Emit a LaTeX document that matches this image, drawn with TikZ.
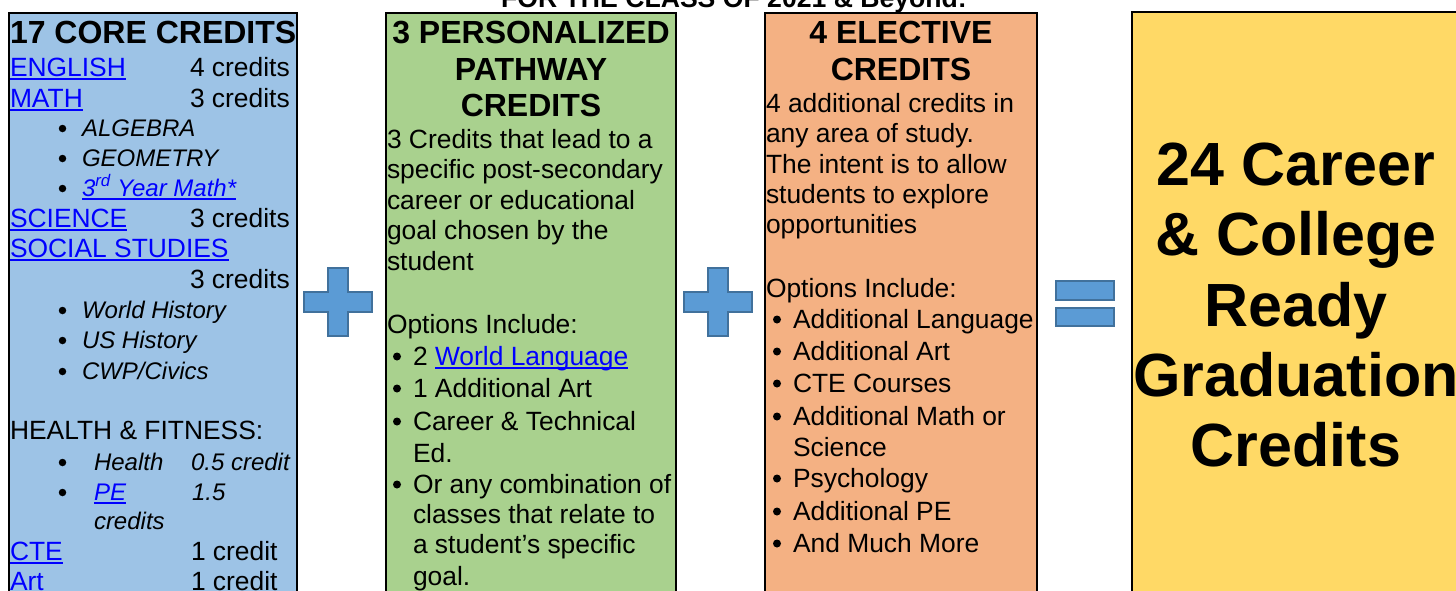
\documentclass[tikz,border=0pt]{standalone}
\usepackage{fontspec}
\setmainfont{Liberation Sans}
\definecolor{cblue}{HTML}{9DC3E6}
\definecolor{cgreen}{HTML}{A9D18E}
\definecolor{corange}{HTML}{F4B183}
\definecolor{cyellow}{HTML}{FFD966}
\definecolor{plusfill}{HTML}{5B9BD5}
\definecolor{plusline}{HTML}{41719C}
\definecolor{linkblue}{HTML}{0000FF}
\newcommand\bodyf{\fontsize{26.4pt}{30.4pt}\selectfont}
\newcommand\smallitf{\fontsize{24pt}{28pt}\selectfont\itshape}
\newcommand\headf{\fontsize{32pt}{36.8pt}\selectfont\bfseries}
\newcommand\bigf{\fontsize{61pt}{70pt}\selectfont\bfseries}
\newcommand\lnk[1]{{\color{linkblue}\setbox0\hbox{#1}\rlap{\rule[-4pt]{\wd0}{1.8pt}}\box0}}
\tikzset{
  boxst/.style={draw=black, line width=2pt},
  tx/.style={anchor=base west, inner sep=0pt, outer sep=0pt, font=\bodyf},
  ti/.style={anchor=base west, inner sep=0pt, outer sep=0pt, font=\smallitf},
  hd/.style={anchor=base, inner sep=0pt, outer sep=0pt, font=\headf},
  bul/.style={circle, fill=black, inner sep=0pt, outer sep=0pt, minimum size=8pt},
  buls/.style={circle, fill=black, inner sep=0pt, outer sep=0pt, minimum size=7.5pt},
  bigt/.style={anchor=base, inner sep=0pt, outer sep=0pt, font=\bigf},
  shp/.style={fill=plusfill, draw=plusline, line width=2pt},
  plussign/.pic={\draw[shp] (-10,-34) -- (10,-34) -- (10,-10) -- (34,-10) -- (34,10) -- (10,10) -- (10,34) -- (-10,34) -- (-10,10) -- (-34,10) -- (-34,-10) -- (-10,-10) -- cycle;}
}
\begin{document}
\begin{tikzpicture}[x=1pt,y=-1pt]
\useasboundingbox (0,0) rectangle (1456,590);
\clip (0,0) rectangle (1456,590);
\fill[white] (0,0) rectangle (1456,590);
% title
\node[anchor=base, inner sep=0pt, font=\fontsize{26.6pt}{30pt}\selectfont\bfseries] (title) at (734,7) {FOR THE CLASS OF 2021 \& Beyond:};
% boxes
\draw[boxst, fill=cblue] (9,13) rectangle (297,620);
\draw[boxst, fill=cgreen] (386,13) rectangle (676,620);
\draw[boxst, fill=corange] (765,13) rectangle (1037,620);
\draw[boxst, fill=cyellow] (1132,12) rectangle (1470,620);
% plus and equals
\pic at (338,302) {plussign};
\pic at (718,302) {plussign};
\draw[shp] (1056,281) rectangle (1114,300);
\draw[shp] (1056,308) rectangle (1114,326);
% ---- blue box
\node[tx,font=\headf] (b0) at (10,43) {17 CORE CREDITS};
\node[tx] (b1) at (10,76) {\lnk{ENGLISH}};
\node[tx] (b1r) at (190,76) {4 credits};
\node[tx] (b2) at (10,107) {\lnk{MATH}};
\node[tx] (b2r) at (190,107) {3 credits};
\node[buls] (b3b) at (62.5,128.5) {};
\node[ti] (b3) at (82,136) {ALGEBRA};
\node[buls] (b4b) at (62.5,158.5) {};
\node[ti] (b4) at (82,166) {GEOMETRY};
\node[buls] (b5b) at (62.5,188.5) {};
\node[ti] (b5) at (82,196) {\lnk{3\textsuperscript{rd} Year Math*}};
\node[tx] (b6) at (10,227) {\lnk{SCIENCE}};
\node[tx] (b6r) at (190,227) {3 credits};
\node[tx] (b7) at (10,257) {\lnk{SOCIAL STUDIES}};
\node[tx] (b7r) at (190,288) {3 credits};
\node[buls] (b8b) at (62.5,310.5) {};
\node[ti] (b8) at (82,318) {World History};
\node[buls] (b9b) at (62.5,340.5) {};
\node[ti] (b9) at (82,348) {US History};
\node[buls] (b10b) at (62.5,371.5) {};
\node[ti] (b10) at (82,379) {CWP/Civics};
\node[tx] (b11) at (10,439) {HEALTH \& FITNESS:};
\node[buls] (b12b) at (62.5,462.5) {};
\node[ti] (b12) at (94,470) {Health};
\node[ti] (b12r) at (191,470) {0.5 credit};
\node[buls] (b13b) at (62.5,492.5) {};
\node[ti] (b13) at (94,500) {\lnk{PE}};
\node[ti] (b13r) at (192,500) {1.5};
\node[ti] (b14) at (94,529) {credits};
\node[tx] (b15) at (10,560) {\lnk{CTE}};
\node[tx] (b15r) at (191,560) {1 credit};
\node[tx] (b16) at (10,590) {\lnk{Art}};
\node[tx] (b16r) at (191,590) {1 credit};
% ---- green box
\node[hd] (g0) at (531,43) {3 PERSONALIZED};
\node[hd] (g0b) at (531,80) {PATHWAY};
\node[hd] (g0c) at (531,116) {CREDITS};
\node[tx] (g1) at (387,148) {3 Credits that lead to a};
\node[tx] (g2) at (387,178) {specific post-secondary};
\node[tx] (g3) at (387,209) {career or educational};
\node[tx] (g4) at (387,239) {goal chosen by the};
\node[tx] (g5) at (387,270) {student};
\node[tx] (g6) at (387,333) {Options Include:};
\node[bul] (g7b) at (397,356.5) {};
\node[tx] (g7) at (413,365) {2 \lnk{World Language}};
\node[bul] (g8b) at (397,388.5) {};
\node[tx] (g8) at (413,397) {1 Additional Art};
\node[bul] (g9b) at (397,421.5) {};
\node[tx] (g9) at (413,430) {Career \& Technical};
\node[tx] (g10) at (413,462) {Ed.};
\node[bul] (g11b) at (397,484.5) {};
\node[tx] (g11) at (413,493) {Or any combination of};
\node[tx] (g12) at (413,523) {classes that relate to};
\node[tx] (g13) at (413,553) {a student’s specific};
\node[tx] (g14) at (413,585) {goal.};
% ---- orange box
\node[hd] (o0) at (901,43) {4 ELECTIVE};
\node[hd] (o0b) at (901,80) {CREDITS};
\node[tx] (o1) at (766,112) {4 additional credits in};
\node[tx] (o2) at (766,142) {any area of study.};
\node[tx] (o3) at (766,173) {The intent is to allow};
\node[tx] (o4) at (766,203) {students to explore};
\node[tx] (o5) at (766,233) {opportunities};
\node[tx] (o6) at (766,297) {Options Include:};
\node[bul] (o7b) at (777,319.5) {};
\node[tx] (o7) at (793,328) {Additional Language};
\node[bul] (o8b) at (777,351.5) {};
\node[tx] (o8) at (793,360) {Additional Art};
\node[bul] (o9b) at (777,383.5) {};
\node[tx] (o9) at (793,392) {CTE Courses};
\node[bul] (o10b) at (777,416.5) {};
\node[tx] (o10) at (793,425) {Additional Math or};
\node[tx] (o11) at (793,456) {Science};
\node[bul] (o12b) at (777,478.5) {};
\node[tx] (o12) at (793,487) {Psychology};
\node[bul] (o13b) at (777,511.5) {};
\node[tx] (o13) at (793,520) {Additional PE};
\node[bul] (o14b) at (777,543.5) {};
\node[tx] (o14) at (793,552) {And Much More};
% ---- yellow box
\node[bigt] (y1) at (1296,185) {24 Career};
\node[bigt] (y2) at (1296,255) {\& College};
\node[bigt] (y3) at (1296,326) {Ready};
\node[bigt] (y4) at (1296,396) {Graduation};
\node[bigt] (y5) at (1296,466) {Credits};
\end{tikzpicture}
\end{document}
